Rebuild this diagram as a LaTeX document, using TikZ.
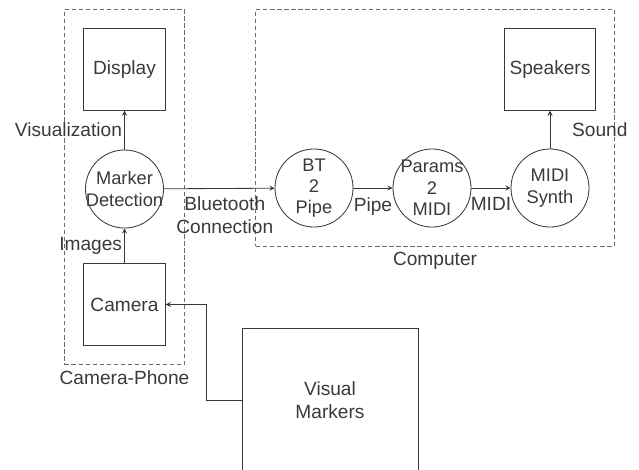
\documentclass[tikz,border=0pt]{standalone}
\usepackage{fontspec}
\setmainfont{Liberation Sans}
\usetikzlibrary{fit}
\definecolor{ink}{HTML}{3A3A3A}
\definecolor{frame}{HTML}{6A6A6A}

\begin{document}
\begin{tikzpicture}[->, >=stealth, x=0.025cm, y=-0.025cm, color=ink, line width=0.6pt,
    font=\fontsize{13.6}{16.3}\selectfont,
    box/.style={rectangle, draw, minimum size=2.04cm},
    proc/.style={circle, draw, minimum size=1.95cm, inner sep=-10pt, align=center,
      font=\fontsize{13}{15.2}\selectfont},
    group/.style={rectangle, draw=frame, dash pattern=on 3pt off 2pt, inner sep=0.47cm},
    lbl/.style={inner sep=1.5pt, align=center}]
  \useasboundingbox (0,0) rectangle (639,469);
  \clip (0,0) rectangle (639,469);

  % camera-phone side
  \node[proc] (detect) at (124.5,189) {Marker\\Detection};
  \node[box] (display) at (124.5,69.5) {Display};
  \node[box] (camera) at (124.5,304.5) {Camera};

  % computer side
  \node[proc] (bt) at (314,188) {BT\\2\\Pipe};
  \node[proc] (params) at (432,188) {Params\\2\\MIDI};
  \node[proc] (synth) at (550,188) {MIDI\\Synth};
  \node[box] (speakers) at (550,69.5) {Speakers};

  \node[rectangle, draw, align=center, minimum width=4.4cm, minimum height=3.6cm,
    anchor=north] (markers) at (330,328) {Visual\\Markers};

  \node[group, fit=(display)(detect)(camera),
    label={[lbl, name=phonelbl, label distance=2pt]below:Camera-Phone}] (phone) {};
  \node[group, fit=(bt)(synth)(speakers),
    label={[lbl, name=complbl, label distance=2pt]below:Computer}] (computer) {};

  \path (camera) edge node[lbl, left] {Images} (detect);
  \path (detect) edge node[lbl, left] {Visualization} (display);
  \path (detect) edge node[lbl, below=4pt, pos=0.55] {Bluetooth\\Connection} (bt);
  \path (bt) edge node[lbl, below=5pt] {Pipe} (params);
  \path (params) edge node[lbl, below=5pt] {MIDI} (synth);
  \path (synth) edge node[lbl, right=14pt] {Sound} (speakers);

  \draw (markers.west) -- ++(-35,0) |- (camera.east);
\end{tikzpicture}
\end{document}
